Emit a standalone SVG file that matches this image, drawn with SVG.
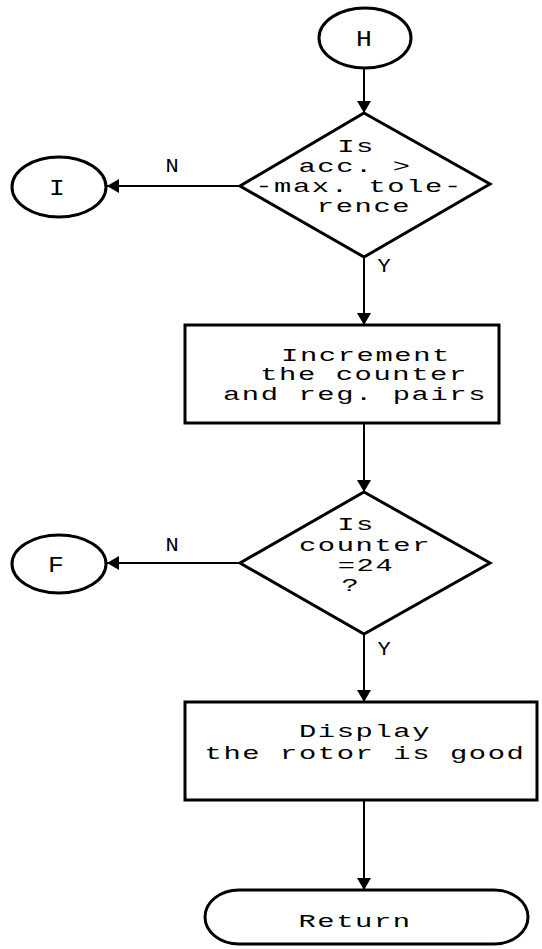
<svg xmlns="http://www.w3.org/2000/svg" width="542" height="949" viewBox="0 0 542 949">
  <defs>
    <marker id="arrow" viewBox="0 0 12 16" refX="12" refY="8" markerWidth="12" markerHeight="16" markerUnits="userSpaceOnUse" orient="auto">
      <path d="M0,1 L12,8 L0,15 Z" fill="#000"/>
    </marker>
    <style>
      .shape { fill: #fff; stroke: #000; stroke-width: 3; }
      .edge { fill: none; stroke: #000; stroke-width: 2; marker-end: url(#arrow); }
      text { font-family: "Liberation Mono", "DejaVu Sans Mono", monospace; fill: #000; text-anchor: middle; }
      .t { font-size: 18px; letter-spacing: 1px; }
      .big { font-size: 22px; }
      .lbl { font-size: 20px; }
    </style>
  </defs>
  <rect width="542" height="949" fill="#fff"/>

  <!-- connectors and branch labels -->
  <g id="connectors">
    <path class="edge" d="M364,68 L364,113"/>
    <path class="edge" d="M240,186 L107,186"/>
    <path class="edge" d="M364,257 L364,325"/>
    <path class="edge" d="M364,423 L364,492"/>
    <path class="edge" d="M240,563 L107,563"/>
    <path class="edge" d="M364,634 L364,702"/>
    <path class="edge" d="M364,800 L364,890"/>
    <text class="lbl" transform="translate(172,172) scale(1.1,1)">N</text>
    <text class="lbl" transform="translate(384,272) scale(1.1,1)">Y</text>
    <text class="lbl" transform="translate(172,551) scale(1.1,1)">N</text>
    <text class="lbl" transform="translate(384,655) scale(1.1,1)">Y</text>
  </g>

  <!-- connector H -->
  <g id="node-h">
    <ellipse class="shape" cx="365" cy="38" rx="46" ry="30"/>
    <text class="big" transform="translate(364,46) scale(1.2,1)">H</text>
  </g>

  <!-- decision: accumulator vs tolerance -->
  <g id="node-check-tolerance">
    <polygon class="shape" points="364,113 490,184 364,257 240,186"/>
    <text class="t" transform="translate(356,152) scale(1.6,1)">Is</text>
    <text class="t" transform="translate(355,172) scale(1.6,1)">acc. &gt;</text>
    <text class="t" transform="translate(359,192) scale(1.6,1)">-max. tole-</text>
    <text class="t" transform="translate(364,212) scale(1.6,1)">rence</text>
  </g>

  <!-- connector I -->
  <g id="node-i">
    <ellipse class="shape" cx="59" cy="187" rx="47" ry="30"/>
    <text class="big" transform="translate(57,195) scale(1.2,1)">I</text>
  </g>

  <!-- process: increment counter -->
  <g id="node-increment">
    <rect class="shape" x="185" y="325" width="314" height="98"/>
    <text class="t" transform="translate(366,361) scale(1.6,1)">Increment</text>
    <text class="t" transform="translate(364,380) scale(1.6,1)">the counter</text>
    <text class="t" transform="translate(355,400) scale(1.6,1)">and reg. pairs</text>
  </g>

  <!-- decision: counter reached 24 -->
  <g id="node-check-counter">
    <polygon class="shape" points="364,492 490,563 364,634 240,563"/>
    <text class="t" transform="translate(356,530) scale(1.6,1)">Is</text>
    <text class="t" transform="translate(365,551) scale(1.6,1)">counter</text>
    <text class="t" transform="translate(366,571) scale(1.6,1)">=24</text>
    <text class="t" transform="translate(351,591) scale(1.6,1)">?</text>
  </g>

  <!-- connector F -->
  <g id="node-f">
    <ellipse class="shape" cx="59" cy="564" rx="47" ry="29"/>
    <text class="big" transform="translate(56,572) scale(1.2,1)">F</text>
  </g>

  <!-- process: display result -->
  <g id="node-display">
    <rect class="shape" x="185" y="702" width="352" height="98"/>
    <text class="t" transform="translate(365,737) scale(1.6,1)">Display</text>
    <text class="t" transform="translate(365,759) scale(1.6,1)">the rotor is good</text>
  </g>

  <!-- terminal: return -->
  <g id="node-return">
    <rect class="shape" x="205" y="890" width="323" height="54" rx="34" ry="27"/>
    <text class="t" transform="translate(355,927) scale(1.6,1)">Return</text>
  </g>
</svg>
